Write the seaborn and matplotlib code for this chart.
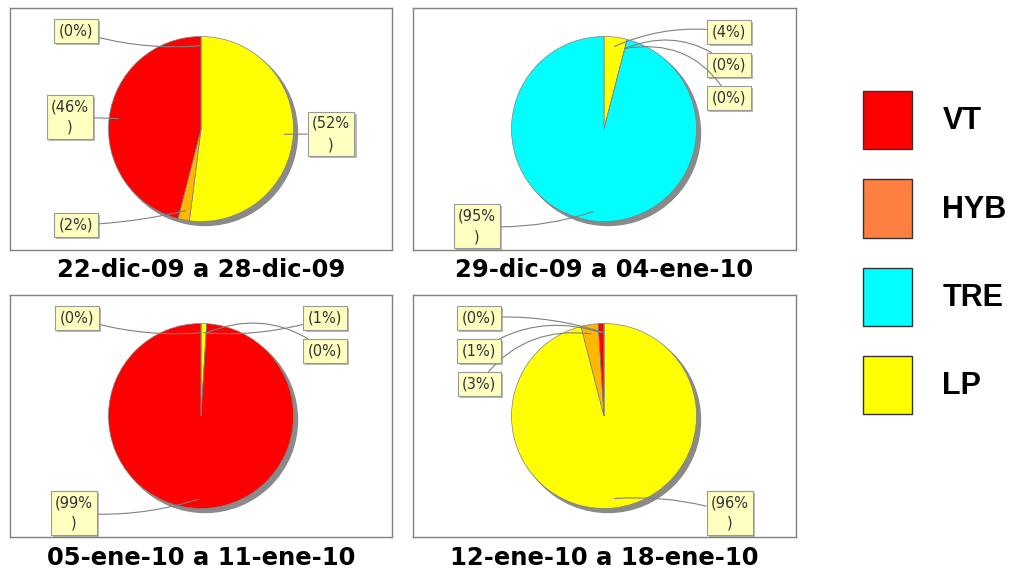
import matplotlib
matplotlib.use("Agg")
import matplotlib.pyplot as plt
import matplotlib.patheffects as pe
from matplotlib.patches import Patch, Circle
import numpy as np
import seaborn as sns

# categories, in the order the pies draw them (clockwise from 12 o'clock)
categories = ["LP", "HYB", "VT", "TRE"]
legend_order = ["VT", "HYB", "TRE", "LP"]

weeks = ["22-dic-09 a 28-dic-09", "29-dic-09 a 04-ene-10",
         "05-ene-10 a 11-ene-10", "12-ene-10 a 18-ene-10"]

# percentages per week, same order as categories
week1 = [52, 2, 46, 0]
week2 = [4, 0, 0, 95]
week3 = [1, 0, 99, 0]
week4 = [96, 3, 1, 0]
all_weeks = [week1, week2, week3, week4]

pie_colors = {"VT": "#FF0000", "HYB": "#FFB800", "TRE": "#00FFFF", "LP": "#FFFF00"}
legend_colors = {"VT": "#FF0000", "HYB": "#FF7F40", "TRE": "#00FFFF", "LP": "#FFFF00"}

W, H = 1011, 573
# panel boxes in pixels: left, top, width, height
panels = [(10, 8, 382, 242), (413, 8, 383, 242), (10, 295, 382, 242), (413, 295, 383, 242)]
title_pos = [(201, 270), (604, 270), (201, 558), (604, 558)]
# label box centres (panel pixels, from top), one per category
label_pos = [
    [(321, 126), (66, 217), (60, 109), (66, 23)],
    [(316, 24), (316, 57), (316, 90), (64, 218)],
    [(315, 23), (315, 56), (64, 218), (67, 23)],
    [(317, 218), (66, 89), (66, 56), (66, 23)],
]
rads = [
    [0.0, 0.05, 0.0, 0.1],
    [0.15, 0.3, 0.35, 0.1],
    [-0.1, 0.3, 0.1, 0.1],
    [0.1, -0.3, -0.25, -0.1],
]

sns.set_theme(style="white")
plt.rcParams["font.family"] = ["DejaVu Sans"]

fig = plt.figure(figsize=(W / 100, H / 100), dpi=100)
fig.patch.set_facecolor("white")

cx, cy_top, r = 191, 121, 92.5
for i, (x0, y0, w, h) in enumerate(panels):
    ax = fig.add_axes([x0 / W, 1 - (y0 + h) / H, w / W, h / H])
    center = (cx, h - cy_top)
    # drop shadow behind the pie
    ax.add_patch(Circle((center[0] + 4, center[1] - 4), r, color="#8a8a8a", zorder=0))
    wedges, _ = ax.pie(all_weeks[i], colors=[pie_colors[c] for c in categories],
                       startangle=90, counterclock=False, center=center, radius=r,
                       frame=True,
                       wedgeprops=dict(edgecolor="#808080", linewidth=0.5))
    ax.set_xlim(0, w)
    ax.set_ylim(0, h)
    ax.set_xticks([])
    ax.set_yticks([])
    ax.set_facecolor("white")
    for s in ax.spines.values():
        s.set_visible(True)
        s.set_color("#808080")
        s.set_linewidth(1)

    for j, wdg in enumerate(wedges):
        mid = np.deg2rad((wdg.theta1 + wdg.theta2) / 2)
        anchor = (center[0] + 0.9 * r * np.cos(mid), center[1] + 0.9 * r * np.sin(mid))
        val = all_weeks[i][j]
        txt = f"({val}%)" if val < 10 else f"({val}%\n)"
        lx, ly = label_pos[i][j]
        ann = ax.annotate(txt, xy=anchor, xytext=(lx, h - ly), ha="center", va="center",
                          fontsize=10.5, color="#333333", linespacing=1.5,
                          bbox=dict(boxstyle="square,pad=0.3", fc="#FFFFC0", ec="#999999", lw=0.8),
                          arrowprops=dict(arrowstyle="-", color="#808080", lw=0.8,
                                          shrinkA=0, shrinkB=0,
                                          connectionstyle=f"arc3,rad={rads[i][j]}"),
                          annotation_clip=False)
        ann.set_clip_on(True)
        ann.get_bbox_patch().set_path_effects(
            [pe.withSimplePatchShadow(offset=(1.5, -1.5), shadow_rgbFace="#888888", alpha=0.6)])

    tx, ty = title_pos[i]
    fig.text(tx / W, 1 - ty / H, weeks[i], ha="center", va="center",
             fontsize=17.5, fontweight="bold", color="black")

handles = [Patch(facecolor=legend_colors[c], edgecolor="#333333", linewidth=1, label=c)
           for c in legend_order]
fig.legend(handles=handles, loc="upper left", bbox_to_anchor=(863 / W, 1 - 91 / H),
           frameon=False, prop=dict(weight="bold", size=22, family="Liberation Sans"),
           labelcolor="black",
           handlelength=1.6, handleheight=2.56, labelspacing=0.98, handletextpad=1.0,
           borderpad=0, borderaxespad=0)

fig.savefig("out.png", dpi=100)
